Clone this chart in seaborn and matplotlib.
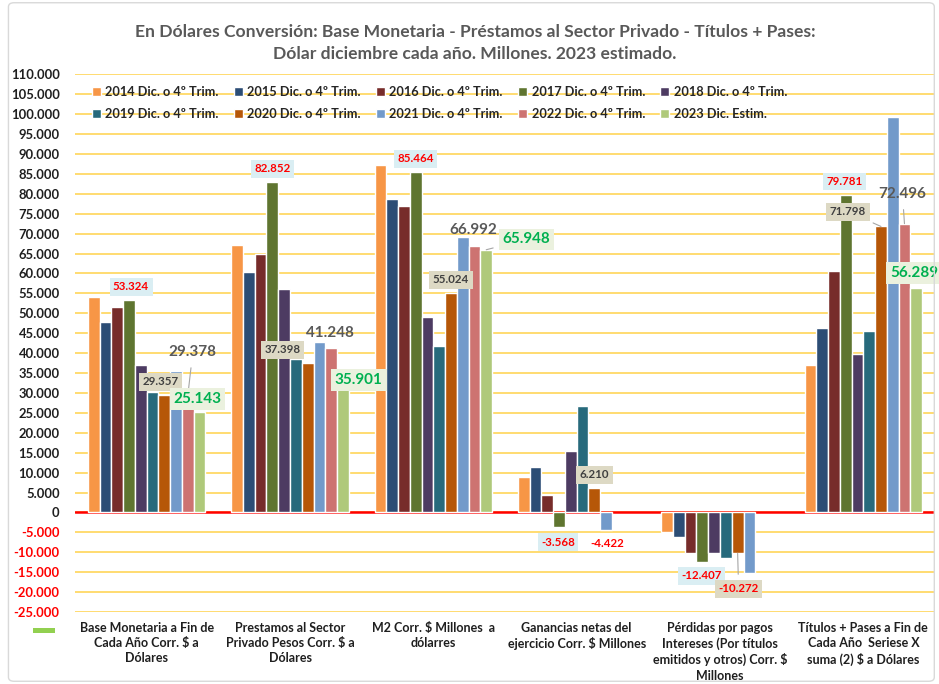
import matplotlib
matplotlib.use("Agg")
import matplotlib.pyplot as plt
import seaborn as sns
import pandas as pd
import numpy as np
from matplotlib.patches import FancyBboxPatch, Rectangle

# ---------------- data ----------------
categories = [
    "Base Monetaria a Fin de\nCada Año Corr. $ a\nDólares",
    "Prestamos al Sector\nPrivado Pesos Corr. $ a\nDólares",
    "M2 Corr. $ Millones  a\ndólarres",
    "Ganancias netas del\nejercicio Corr. $ Millones",
    "Pérdidas por pagos\nIntereses (Por títulos\nemitidos y otros) Corr. $\nMillones",
    "Títulos + Pases a Fin de\nCada Año  Seriese X\nsuma (2) $ a Dólares",
]
series = [
    "2014 Dic. o 4º Trim.", "2015 Dic. o 4º Trim.", "2016 Dic. o 4º Trim.",
    "2017 Dic. o 4º Trim.", "2018 Dic. o 4º Trim.", "2019 Dic. o 4º Trim.",
    "2020 Dic. o 4º Trim.", "2021 Dic. o 4º Trim.", "2022 Dic. o 4º Trim.",
    "2023 Dic. Estim.",
]
v2014 = [54000, 67100, 87300, 9000, -4900, 36900]
v2015 = [47800, 60300, 78800, 11300, -6200, 46200]
v2016 = [51700, 64800, 76900, 4300, -10300, 60700]
v2017 = [53324, 82852, 85464, -3568, -12407, 79781]
v2018 = [37100, 56000, 49100, 15300, -10300, 39700]
v2019 = [30300, 38500, 41700, 26800, -11400, 45500]
v2020 = [29357, 37398, 55024, 6210, -10272, 71798]
v2021 = [35500, 42800, 69200, -4422, -15300, 99200]
v2022 = [29378, 41248, 66992, None, None, 72496]
v2023 = [25143, 35901, 65948, None, None, 56289]
all_values = [v2014, v2015, v2016, v2017, v2018, v2019, v2020, v2021, v2022, v2023]

colors = ["#F79646", "#2C4D75", "#772C2A", "#5F7530", "#4D3B62",
          "#276A7C", "#B65708", "#729ACA", "#CD7371", "#AFC97A"]

y_ticks = list(range(-25000, 110001, 5000))

# data labels: (category idx, series idx, text, style, dx in px, dy in value units, leader)
labels = [
    (0, 3, "53.324", "red", 2, 3300, False),
    (0, 6, "29.357", "beige", -4, 3400, False),
    (0, 8, "29.378", "gray", 5, 10900, True),
    (0, 9, "25.143", "green", -2, 3400, False),
    (1, 3, "82.852", "red", 0, 3400, False),
    (1, 6, "37.398", "beige", -25, 3400, False),
    (1, 8, "41.248", "gray", -1, 3900, False),
    (1, 9, "35.901", "green", 16, -2600, False),
    (2, 3, "85.464", "red", 0, 3300, False),
    (2, 6, "55.024", "beige", 0, 3400, False),
    (2, 8, "66.992", "gray", -1, 4000, False),
    (2, 9, "65.948", "green", 40, 2600, True),
    (3, 3, "-3.568", "red", -1, -3900, False),
    (3, 6, "6.210", "beige", 0, 3200, False),
    (3, 7, "-4.422", "rednobox", 1, -3500, False),
    (4, 3, "-12.407", "red", -1, -3500, False),
    (4, 6, "-10.272", "redbeige", 1, -8900, True),
    (5, 3, "79.781", "red", -1, 3300, False),
    (5, 6, "71.798", "beige", -33, 3700, True),
    (5, 8, "72.496", "gray", -2, 7500, True),
    (5, 9, "56.289", "green", -2, 3900, False),
]

# ---------------- build frame ----------------
rows = []
for s, vals in zip(series, all_values):
    for c, v in zip(categories, vals):
        if v is not None:
            rows.append({"cat": c, "serie": s, "val": v})
df = pd.DataFrame(rows)

sns.set_style("white")
plt.rcParams["font.family"] = ["Lato", "DejaVu Sans"]

W, H = 939, 684
fig = plt.figure(figsize=(W / 100, H / 100), dpi=100)
ax_left, ax_right, ax_top, ax_bottom = 75, 935, 74.3, 612
ax = fig.add_axes([ax_left / W, 1 - ax_bottom / H, (ax_right - ax_left) / W,
                   (ax_bottom - ax_top) / H])

sns.barplot(data=df, x="cat", y="val", hue="serie", order=categories,
            hue_order=series, palette=colors, width=0.82, dodge=True,
            saturation=1, errorbar=None, ax=ax, zorder=3)

ax.set_ylim(-25000, 110000)
ax.set_xlim(-0.5, len(categories) - 0.5)
ax.set_yticks(y_ticks)
ax.set_yticklabels([f"{t:,}".replace(",", ".") for t in y_ticks])
for t, lab in zip(y_ticks, ax.get_yticklabels()):
    lab.set_color("#FF0000" if t < 0 else "#1F1F1F")
    lab.set_fontweight("bold")
    lab.set_fontsize(9.4)
ax.yaxis.grid(True, color="#FFD966", lw=1.3)
ax.xaxis.grid(False)
ax.set_axisbelow(True)
ax.axhline(0, color="#FF0000", lw=1.8, zorder=2.5)
for sp in ax.spines.values():
    sp.set_visible(False)
ax.tick_params(axis="y", length=0, pad=11)
ax.tick_params(axis="x", length=0, pad=7)
ax.set_xlabel("")
ax.set_ylabel("")
for lab in ax.get_xticklabels():
    lab.set_fontsize(9)
    lab.set_fontweight("bold")
    lab.set_color("#1F1F1F")
    lab.set_linespacing(1.32)
    lab.set_va("top")

# legend (row-major order like the reference)
handles, leg_labels = ax.get_legend_handles_labels()
ax.get_legend().remove()
order = [0, 5, 1, 6, 2, 7, 3, 8, 4, 9]
leg = ax.legend([handles[i] for i in order], [leg_labels[i] for i in order],
                ncol=5, loc="upper left", bbox_to_anchor=(0.006, 0.999),
                frameon=False, prop={"weight": "bold", "size": 9.2},
                handlelength=0.7, handleheight=0.7, handletextpad=0.35,
                columnspacing=1.2, labelspacing=0.75)

# bar geometry from the drawn patches
bar_pos = {}
for j, cont in enumerate(ax.containers):
    for p in cont.patches:
        xc = p.get_x() + p.get_width() / 2
        if np.isnan(xc) or np.isnan(p.get_height()):
            continue
        bar_pos[(int(round(xc)), j)] = (xc, p.get_y() + p.get_height())

px_to_x = 1.0 / ((ax_right - ax_left) / len(categories))

styles = {
    "red": dict(color="#FF0000", fontsize=8.3, fontweight="bold",
                bbox=dict(boxstyle="square,pad=0.3", fc="#DAEEF3", ec="none")),
    "beige": dict(color="#404040", fontsize=8.3, fontweight="bold",
                  bbox=dict(boxstyle="square,pad=0.3", fc="#DDD9C4", ec="none")),
    "gray": dict(color="#595959", fontsize=11, fontweight="bold"),
    "green": dict(color="#00B050", fontsize=11, fontweight="bold",
                  bbox=dict(boxstyle="square,pad=0.25", fc="#EBF1DE", ec="none")),
    "rednobox": dict(color="#FF0000", fontsize=8.3, fontweight="bold"),
    "redbeige": dict(color="#FF0000", fontsize=8.3, fontweight="bold",
                     bbox=dict(boxstyle="square,pad=0.3", fc="#DDD9C4", ec="none")),
}

for ci, si, txt, st, dx, dy, leader in labels:
    if (ci, si) not in bar_pos:
        continue
    xc, yend = bar_pos[(ci, si)]
    tx = xc + dx * px_to_x
    ty = yend + dy
    kw = dict(styles[st])
    if leader:
        ax.annotate(txt, xy=(xc, yend), xytext=(tx, ty), ha="center", va="center",
                    zorder=6, arrowprops=dict(arrowstyle="-", color="#A6A6A6", lw=0.8,
                                              shrinkA=4, shrinkB=0), **kw)
    else:
        ax.text(tx, ty, txt, ha="center", va="center", zorder=6, **kw)

# title
fig.text(0.506, 1 - 43 / H,
         "En Dólares Conversión: Base Monetaria - Préstamos al Sector Privado - Títulos + Pases:\n"
         "Dólar diciembre cada año. Millones. 2023 estimado.",
         ha="center", va="center", fontsize=12.6, fontweight="bold", color="#595959",
         linespacing=1.4)

# small legend key remnant at bottom left
fig.patches.append(Rectangle((33 / W, 1 - 633 / H), 22 / W, 5 / H,
                             transform=fig.transFigure, fc="#92D050", ec="none"))
# chart border
fig.patches.append(FancyBboxPatch((0.009, 0.004), 0.986, 0.992,
                                  boxstyle="round,pad=0,rounding_size=0.006",
                                  transform=fig.transFigure, fc="none",
                                  ec="#D9D9D9", lw=1))

fig.savefig("out.png", dpi=100)
